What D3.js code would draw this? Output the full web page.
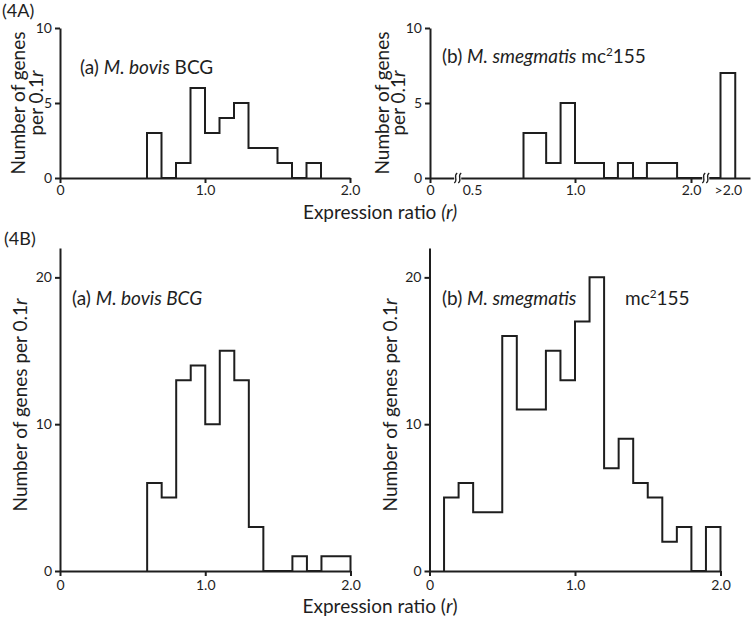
<!DOCTYPE html>
<html>
<head>
<meta charset="utf-8">
<script src="https://cdn.jsdelivr.net/npm/d3@7"></script>
<style>
body { margin: 0; background: #fff; }
svg text { font-family: Lato, "Open Sans", sans-serif; fill: #1e1e1e; }
</style>
</head>
<body>
<div id="chart"></div>
<script>
// bins of 0.1r, left edges
var binLeft = [0.0, 0.1, 0.2, 0.3, 0.4, 0.5, 0.6, 0.7, 0.8, 0.9, 1.0, 1.1, 1.2, 1.3, 1.4, 1.5, 1.6, 1.7, 1.8, 1.9];
var binRight = [0.1, 0.2, 0.3, 0.4, 0.5, 0.6, 0.7, 0.8, 0.9, 1.0, 1.1, 1.2, 1.3, 1.4, 1.5, 1.6, 1.7, 1.8, 1.9, 2.0];
// (4A) a: M. bovis BCG
var bovisCountsA = [0, 0, 0, 0, 0, 0, 3, 0, 1, 6, 3, 4, 5, 2, 2, 1, 0, 1, 0, 0];
// (4A) b: M. smegmatis, axis is broken so bins are uneven
var smegLoA = [0.75, 0.86, 0.93, 1.0, 1.37, 1.62, 2.2];
var smegHiA = [0.86, 0.93, 1.0, 1.25, 1.5, 1.88, 2.3];
var smegCountsA = [3, 1, 5, 1, 1, 1, 7];
// (4B)
var bovisCountsB = [0, 0, 0, 0, 0, 0, 6, 5, 13, 14, 10, 15, 13, 3, 0, 0, 1, 0, 1, 1];
var smegCountsB = [0, 5, 6, 4, 4, 16, 11, 11, 15, 13, 17, 20, 7, 9, 6, 5, 2, 3, 0, 3];

var yTicksA = [0, 5, 10];
var yTicksB = [0, 10, 20];
var ratioTicks = [0, 1.0, 2.0];
var smegTickVals = [0, 0.5, 1.0, 2.0, 2.25];
var smegTickText = ["0", "0.5", "1.0", "2.0", ">2.0"];
var smegBreaks = [0.33, 2.1];

var ink = "#1e1e1e";
var svg = d3.select("#chart").append("svg")
    .attr("width", 755)
    .attr("height", 621);

function fmt(d) { return d === 0 ? "0" : d.toFixed(1); }

function styleAxis(g, fs) {
    g.attr("font-family", null).attr("font-size", null);
    g.selectAll("path, line").attr("stroke", ink).attr("stroke-width", 2);
    g.selectAll("text").style("font-size", fs + "px").attr("fill", ink);
}

// step outline of a histogram
function outline(lo, hi, counts) {
    var pts = [];
    var first = counts.findIndex(function (c) { return c > 0; });
    var last = counts.length - 1;
    while (counts[last] === 0) last--;
    for (var i = first; i <= last; i++) {
        if (i === first) pts.push([lo[i], 0]);
        else if (lo[i] > hi[i - 1] + 1e-9) { pts.push([hi[i - 1], 0]); pts.push([lo[i], 0]); }
        pts.push([lo[i], counts[i]]);
        pts.push([hi[i], counts[i]]);
    }
    pts.push([hi[last], 0]);
    return pts;
}

function drawPanel(p) {
    var y = d3.scaleLinear().domain([0, p.yMax]).range([p.bottom, p.top]);
    var g = svg.append("g");

    var line = d3.line().x(function (d) { return p.x(d[0]); }).y(function (d) { return y(d[1]); });
    g.append("path")
        .attr("d", line(outline(p.lo, p.hi, p.counts)))
        .attr("fill", "none")
        .attr("stroke", ink)
        .attr("stroke-width", 2)
        .attr("stroke-linejoin", "miter");

    var ya = g.append("g")
        .attr("transform", "translate(" + p.x.range()[0] + ",0)")
        .call(d3.axisLeft(y).tickValues(p.yTicks).tickSize(5).tickSizeOuter(0).tickPadding(3).tickFormat(d3.format("d")));
    styleAxis(ya, 14);

    var xa = g.append("g")
        .attr("transform", "translate(0," + p.bottom + ")")
        .call(d3.axisBottom(p.x).tickValues(p.xTicks).tickSize(5).tickSizeOuter(0).tickPadding(p.pad)
            .tickFormat(function (d, i) { return p.xText ? p.xText[i] : fmt(d); }));
    styleAxis(xa, 14);
    if (p.noTick) {
        xa.selectAll(".tick").filter(function (d) { return p.noTick.indexOf(d) >= 0; })
            .select("line").remove();
    }
    if (p.breaks) {
        p.breaks.forEach(function (b) {
            var cx = p.x(b);
            xa.append("rect").attr("x", cx - 3.5).attr("y", -3).attr("width", 7).attr("height", 6).attr("fill", "#fff");
            [-2, 2].forEach(function (o) {
                xa.append("path")
                    .attr("d", "M" + (cx + o - 1.5) + ",5 C" + (cx + o + 3) + ",2 " + (cx + o - 3) + ",-2 " + (cx + o + 1.5) + ",-5")
                    .attr("fill", "none").attr("stroke", ink).attr("stroke-width", 1.3);
            });
        });
    }
    return g;
}

var xA1 = d3.scaleLinear().domain([0, 2]).range([60, 350]);
var xA2 = d3.scaleLinear().domain([0, 0.5, 1.0, 2.0, 2.4]).range([430, 472, 575, 691, 750]);
var xB1 = d3.scaleLinear().domain([0, 2]).range([60, 350.5]);
var xB2 = d3.scaleLinear().domain([0, 2]).range([429.5, 720.5]);

drawPanel({ x: xA1, lo: binLeft, hi: binRight, counts: bovisCountsA, yMax: 10, top: 28, bottom: 178, yTicks: yTicksA, xTicks: ratioTicks, pad: 2 });
drawPanel({ x: xA2, lo: smegLoA, hi: smegHiA, counts: smegCountsA, yMax: 10, top: 28, bottom: 178, yTicks: yTicksA,
    xTicks: smegTickVals, xText: smegTickText, noTick: [0.5, 2.25], breaks: smegBreaks, pad: 2 });
drawPanel({ x: xB1, lo: binLeft, hi: binRight, counts: bovisCountsB, yMax: 22, top: 248, bottom: 571, yTicks: yTicksB, xTicks: ratioTicks, pad: 4 });
drawPanel({ x: xB2, lo: binLeft, hi: binRight, counts: smegCountsB, yMax: 22, top: 248, bottom: 571, yTicks: yTicksB, xTicks: ratioTicks, pad: 4 });

// labels
function label(x, y, size, parts, rotate, anchor) {
    var t = svg.append("text")
        .attr("transform", "translate(" + x + "," + y + ")" + (rotate ? " rotate(-90)" : ""))
        .attr("text-anchor", anchor || "start")
        .style("font-size", size + "px");
    parts.forEach(function (s) {
        var ts = t.append("tspan").text(s.t);
        if (s.i) ts.style("font-style", "italic");
        if (s.sup) ts.attr("dy", -7).style("font-size", (size * 0.62) + "px");
        if (s.down) ts.attr("dy", 7);
    });
    return t;
}

label(2, 17, 18, [{ t: "(4A)" }]);
label(4, 245, 18, [{ t: "(4B)" }]);

label(25, 103, 19, [{ t: "Number of genes" }], true, "middle");
label(43, 103, 19, [{ t: "per 0.1" }, { t: "r", i: true }], true, "middle");
label(389, 103, 19, [{ t: "Number of genes" }], true, "middle");
label(405, 103, 19, [{ t: "per 0.1" }, { t: "r", i: true }], true, "middle");
label(27, 405, 19, [{ t: "Number of genes per 0.1" }, { t: "r", i: true }], true, "middle");
label(397, 405, 19, [{ t: "Number of genes per 0.1" }, { t: "r", i: true }], true, "middle");

label(380, 219, 19, [{ t: "Expression ratio " }, { t: "(r)", i: true }], false, "middle");
label(380, 613, 19, [{ t: "Expression ratio (" }, { t: "r", i: true }, { t: ")" }], false, "middle");

label(80, 74, 19, [{ t: "(a) " }, { t: "M. bovis", i: true }, { t: " BCG" }]);
label(442, 63, 19, [{ t: "(b) " }, { t: "M. smegmatis", i: true }, { t: " mc" }, { t: "2", sup: true }, { t: "155", down: true }]);
label(72, 305, 19, [{ t: "(a) " }, { t: "M. bovis BCG", i: true }]);
label(442, 305, 19, [{ t: "(b) " }, { t: "M. smegmatis", i: true }]);
label(625, 305, 19, [{ t: "mc" }, { t: "2", sup: true }, { t: "155", down: true }]);
</script>
</body>
</html>
